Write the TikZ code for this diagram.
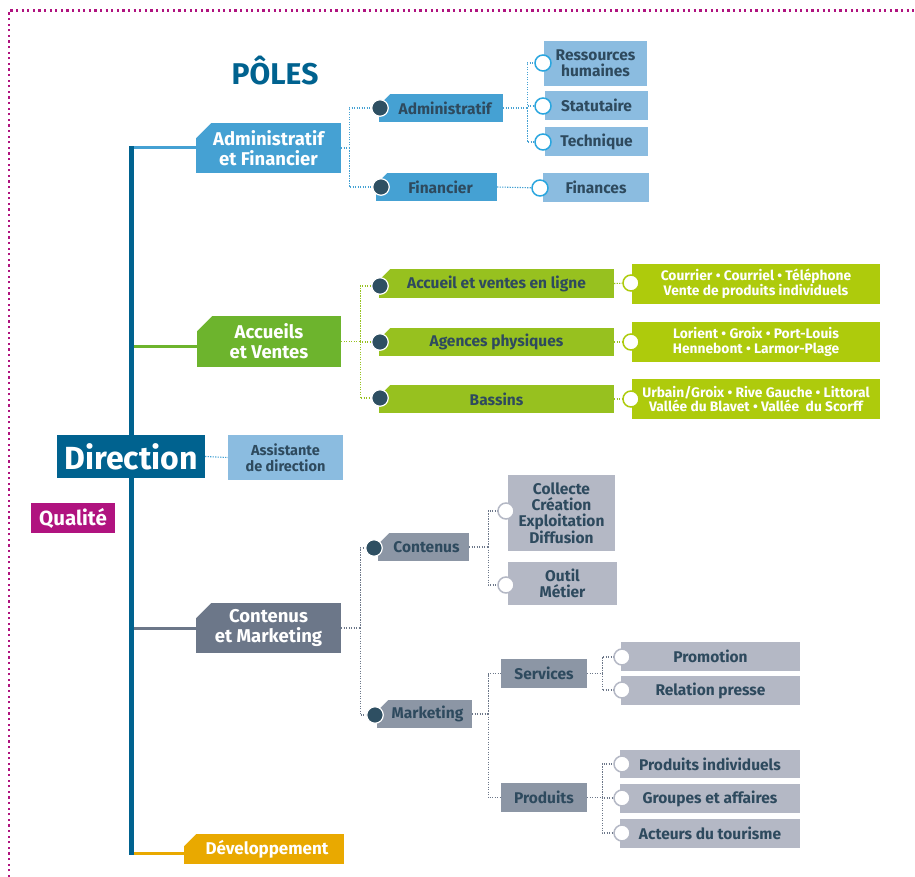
\documentclass[tikz,border=0pt]{standalone}
\usepackage{fontspec}
\setmainfont{Fira Sans}
\definecolor{dblue}{HTML}{00628F}
\definecolor{ablue}{HTML}{45A1D3}
\definecolor{lblue}{HTML}{8BBCE0}
\definecolor{cblue}{HTML}{2AA6DF}
\definecolor{txt}{HTML}{2E4A5E}
\definecolor{dotc}{HTML}{2E4F62}
\definecolor{gmain}{HTML}{6DB42D}
\definecolor{gsub}{HTML}{97C11F}
\definecolor{glight}{HTML}{AECB0C}
\definecolor{grayA}{HTML}{6C7789}
\definecolor{grayB}{HTML}{8C96A5}
\definecolor{grayC}{HTML}{B4B8C5}
\definecolor{mag}{HTML}{B0137F}
\definecolor{orng}{HTML}{E9A900}
\pgfdeclarelayer{bg}
\pgfsetlayers{bg,main}
\tikzset{
  every node/.style={align=center, inner sep=0pt},
  chamf/.style={path picture={\fill[white] (path picture bounding box.north west) -- ++(#1,0pt) -- ++(-#1,-#1) -- cycle;}},
  chamf/.default=15pt,
  sz/.style 2 args={minimum width=#1pt, minimum height=#2pt},
  pbox/.style={font=\fontsize{18.5}{20}\selectfont\bfseries, text=white, chamf=15pt},
  sbox/.style={font=\fontsize{15.5}{16}\selectfont\bfseries, text=txt},
  rbox/.style={font=\fontsize{13.8}{14.8}\selectfont\bfseries, text=white, fill=glight},
  dk/.style={circle, fill=dotc, draw=white, line width=1.2pt, minimum size=16.5pt},
  oc/.style={circle, fill=white, draw=#1, line width=1.5pt, minimum size=16pt},
  bd/.style={ablue, line width=1.1pt, dash pattern=on 1.1pt off 1.4pt},
  gd/.style={gsub, line width=1.1pt, dash pattern=on 1.1pt off 1.4pt},
  kd/.style={grayA, line width=1.1pt, dash pattern=on 1.1pt off 1.4pt},
}
\begin{document}
\begin{tikzpicture}[x=1pt,y=-1pt]
\useasboundingbox (0,0) rectangle (915,877);
\draw[mag, line width=2.2pt, dash pattern=on 2.2pt off 3.4pt] (9,877) -- (9,10.5) -- (915,10.5);

\node[font=\fontsize{30}{30}\selectfont\bfseries, text=dblue] (poles) at (275,71) {PÔLES};
\coordinate (sp) at (131.5,0);

% Direction
\node[fill=dblue, text=white, sz={148}{43}, font=\fontsize{32}{32}\selectfont\bfseries] (dir) at (131,456.5) {Direction};
\node[fill=lblue, sbox, sz={115}{45}, font=\fontsize{14.5}{15.5}\selectfont\bfseries] (asst) at (285.5,457.5) {Assistante\\de direction};
\node[fill=mag, text=white, sz={84}{30}, font=\fontsize{20.5}{20}\selectfont\bfseries] (qual) at (73,518) {Qualité};

% Administratif et Financier
\node[pbox, fill=ablue, sz={145}{50}] (af) at (268.5,148) {Administratif\\et Financier};
\node[sbox, fill=ablue, sz={124}{28}, chamf=11pt] (adm) at (441,108) {\hspace{8pt}Administratif};
\node[sbox, fill=ablue, sz={121}{28}, chamf=11pt] (fin) at (436.5,187) {\hspace{8pt}Financier};
\node[sbox, fill=lblue, sz={103}{45}] (rh) at (595.5,63.5) {Ressources\\humaines};
\node[sbox, fill=lblue, sz={103}{29}] (stat) at (596.5,105.5) {Statutaire};
\node[sbox, fill=lblue, sz={103}{29}] (tech) at (596.5,141.5) {Technique};
\node[sbox, fill=lblue, sz={106}{29}] (fins) at (596,187.5) {Finances};
\node[dk] (dadm) at (380,108) {};
\node[dk] (dfin) at (381,187) {};
\node[oc=cblue] (crh) at (543,63) {};
\node[oc=cblue] (cstat) at (543,106) {};
\node[oc=cblue] (ctech) at (543,142) {};
\node[oc=cblue] (cfins) at (540,188) {};

% Accueils et Ventes
\node[pbox, fill=gmain, sz={144}{51}] (av) at (269,341.5) {Accueils\\et Ventes};
\node[sbox, fill=gsub, sz={235}{29}, chamf=11pt] (g1) at (496.5,283.5) {Accueil et ventes en ligne};
\node[sbox, fill=gsub, sz={235}{28}, chamf=11pt] (g2) at (496.5,342) {Agences physiques};
\node[sbox, fill=gsub, sz={235}{28}, chamf=11pt] (g3) at (496.5,399) {Bassins};
\node[rbox, sz={248}{40}] (r1) at (756,284) {Courrier • Courriel • Téléphone\\Vente de produits individuels};
\node[rbox, sz={248}{40}] (r2) at (756,342) {Lorient • Groix • Port-Louis\\Hennebont • Larmor-Plage};
\node[rbox, sz={248}{40}] (r3) at (756,399) {Urbain/Groix • Rive Gauche • Littoral\\Vallée du Blavet • Vallée\ \ du Scorff};
\node[dk] (dg1) at (380,286) {};
\node[dk] (dg2) at (380,342) {};
\node[dk] (dg3) at (380,398) {};
\node[oc=glight] (cg1) at (631,283) {};
\node[oc=glight] (cg2) at (631,342) {};
\node[oc=glight] (cg3) at (631,399) {};

% Contenus et Marketing
\node[pbox, fill=grayA, sz={145}{50}] (cm) at (268.5,628) {Contenus\\et Marketing};
\node[sbox, fill=grayB, sz={91}{28}, chamf=11pt] (cont) at (423.5,547) {\hspace{6pt}Contenus};
\node[sbox, fill=grayB, sz={95}{28}, chamf=11pt] (mkt) at (424.5,714) {\hspace{6pt}Marketing};
\node[sbox, fill=grayC, sz={107}{76}] (col) at (561.5,513) {Collecte\\Création\\Exploitation\\Diffusion};
\node[sbox, fill=grayC, sz={109}{43}] (outil) at (562.5,583.5) {Outil\\Métier};
\node[sbox, fill=grayB, sz={86}{29}] (serv) at (544,673.5) {Services};
\node[sbox, fill=grayB, sz={86}{29}] (prod) at (544,797.5) {Produits};
\node[sbox, fill=grayC, sz={179}{29}] (prom) at (710.5,656.5) {Promotion};
\node[sbox, fill=grayC, sz={179}{29}] (rel) at (710.5,690.5) {Relation presse};
\node[sbox, fill=grayC, sz={180}{28}] (pind) at (710,764) {Produits individuels};
\node[sbox, fill=grayC, sz={180}{29}] (grp) at (710,798.5) {Groupes et affaires};
\node[sbox, fill=grayC, sz={180}{29}] (act) at (710,833.5) {Acteurs du tourisme};
\node[dk] (dcont) at (374,548) {};
\node[dk] (dmkt) at (375,715) {};
\node[oc=grayC] (ccol) at (506,511) {};
\node[oc=grayC] (cout) at (506,585) {};
\node[oc=grayC] (cprom) at (622,657) {};
\node[oc=grayC] (crel) at (622,690) {};
\node[oc=grayC] (cpind) at (622,764) {};
\node[oc=grayC] (cgrp) at (622,798) {};
\node[oc=grayC] (cact) at (622,833) {};

% Developpement
\node[pbox, fill=orng, sz={160}{30}, chamf=12pt, font=\fontsize{17}{18}\selectfont\bfseries] (dev) at (264,849) {\hspace{6pt}Développement};

\coordinate (avw) at ([yshift=-5pt]av.west);
\coordinate (devw) at ([yshift=-4pt]dev.west);

\begin{pgfonlayer}{bg}
\draw[ablue, line width=3pt] (sp |- af.west) -- (af.west);
\draw[gmain, line width=3pt] (sp |- avw) -- (avw);
\draw[grayA, line width=3pt] (sp |- cm.west) -- (cm.west);
\draw[orng, line width=3pt] (sp |- devw) -- (devw);
\draw[dblue, line width=5pt] ([yshift=1.5pt]sp |- af.west) -- ([yshift=-1.5pt]sp |- devw);

\draw[bd] (dir.east) -- (asst.west);
\draw[bd] (af.east) -- ++(8,0) coordinate (ja);
\draw[bd] (ja) |- (dadm);
\draw[bd] (ja) |- (dfin);
\draw[bd] (adm.east) -- ++(24,0) coordinate (jb);
\draw[bd] (jb) |- (crh);
\draw[bd] (jb) |- (cstat);
\draw[bd] (jb) |- (ctech);
\draw[bd] (fin.east) -- (cfins);

\draw[gd] (av.east) -- ++(19,0) coordinate (jg);
\draw[gd] (jg) |- (dg1);
\draw[gd] (jg) |- (dg2);
\draw[gd] (jg) |- (dg3);
\draw[gd] (g1.east) -- (cg1);
\draw[gd] (g2.east) -- (cg2);
\draw[gd] (g3.east) -- (cg3);

\draw[kd] (cm.east) -- ++(19,0) coordinate (jc);
\draw[kd] (jc) |- (dcont);
\draw[kd] (jc) |- (dmkt);
\draw[kd] (cont.east) -- ++(19,0) coordinate (jd);
\draw[kd] (jd) |- (ccol);
\draw[kd] (jd) |- (cout);
\draw[kd] (mkt.east) -- ++(16,0) coordinate (je);
\draw[kd] (je) |- (serv);
\draw[kd] (je) |- (prod);
\draw[kd] (serv.east) -- ++(15,0) coordinate (jf);
\draw[kd] (jf) |- (cprom);
\draw[kd] (jf) |- (crel);
\draw[kd] (prod.east) -- ++(15,0) coordinate (jh);
\draw[kd] (jh) |- (cpind);
\draw[kd] (jh) |- (cgrp);
\draw[kd] (jh) |- (cact);
\end{pgfonlayer}
\end{tikzpicture}
\end{document}
